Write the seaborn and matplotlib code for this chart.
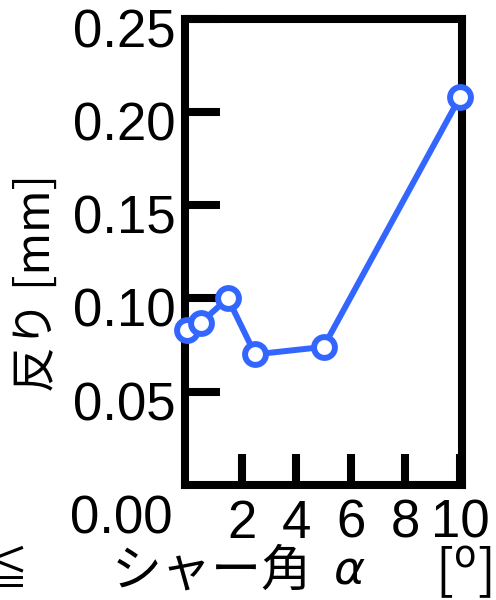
import matplotlib
matplotlib.use("Agg")
import matplotlib.pyplot as plt
import matplotlib.transforms as mtransforms
import seaborn as sns
import pandas as pd

# ---- data ----
shear_angle = [0.0, 0.5, 1.5, 2.5, 5.0, 10.0]
warp_mm = [0.083, 0.087, 0.100, 0.070, 0.074, 0.208]
x_ticks = [2, 4, 6, 8, 10]
y_ticks = [0.05, 0.10, 0.15, 0.20, 0.25]
y_tick_labels = ["0.05", "0.10", "0.15", "0.20", "0.25"]

BLUE = "#3366FF"
JP = ["Noto Sans CJK JP", "DejaVu Sans"]
NUM = ["Liberation Sans", "DejaVu Sans"]

sns.set_theme(style="white")
plt.rcParams["font.family"] = JP
plt.rcParams["text.color"] = "black"
plt.rcParams["xtick.color"] = "black"
plt.rcParams["ytick.color"] = "black"

df = pd.DataFrame({"angle": shear_angle, "warp": warp_mm})

fig = plt.figure(figsize=(4.96, 6.0), dpi=100)
ax = fig.add_axes([185 / 496, 115 / 600, 277 / 496, 466.5 / 600])

sns.lineplot(data=df, x="angle", y="warp", ax=ax, color=BLUE, linewidth=4.3,
             marker="o", markersize=15, markerfacecolor="white",
             markeredgecolor=BLUE, markeredgewidth=4.3, clip_on=False, zorder=5)

ax.set_xlim(-0.07, 10.07)
ax.set_ylim(0, 0.25)

for side in ["left", "right", "top", "bottom"]:
    ax.spines[side].set_linewidth(5.8)
    ax.spines[side].set_color("black")
    ax.spines[side].set_visible(True)

ax.set_xticks(x_ticks)
ax.set_xticklabels([str(t) for t in x_ticks])
ax.set_yticks(y_ticks)
ax.set_yticklabels(y_tick_labels)

ax.tick_params(axis="y", direction="in", length=25, width=5.8, color="black",
               labelsize=38, pad=7, left=True, right=False)
ax.tick_params(axis="x", direction="in", length=22, width=5.8, color="black",
               labelsize=38, pad=10, bottom=True, top=False)
for lab in ax.get_xticklabels() + ax.get_yticklabels():
    lab.set_family(NUM)

# labels in the reference sit a little below their ticks
shift = mtransforms.ScaledTranslation(0, -0.09, fig.dpi_scale_trans)
for lab in ax.get_yticklabels():
    lab.set_transform(lab.get_transform() + shift)

# 0.00 label placed below the axis corner
ax.text(-0.045, -0.075, "0.00", transform=ax.transAxes, ha="right", va="center",
        fontsize=38, family=NUM)

ax.set_xlabel("")
ax.set_ylabel("")

# y axis title
fig.text(37 / 496, 1 - 283 / 600, "反り [mm]", rotation=90, ha="center",
         va="center", fontsize=33)

# x axis title, built from pieces (left sign is cut by the edge, as in the reference)
fig.text(-18 / 496, 1 - 572 / 600, "≦", ha="left", va="center", fontsize=33)
fig.text(112 / 496, 1 - 572 / 600, "シャー角", ha="left", va="center", fontsize=36)
fig.text(333 / 496, 1 - 570 / 600, r"$\alpha$", ha="left", va="center", fontsize=34)
fig.text(435 / 496, 1 - 572 / 600, r"[$^{\mathrm{o}}$]", ha="left", va="center",
         fontsize=38)

fig.savefig("out.png", dpi=100)
